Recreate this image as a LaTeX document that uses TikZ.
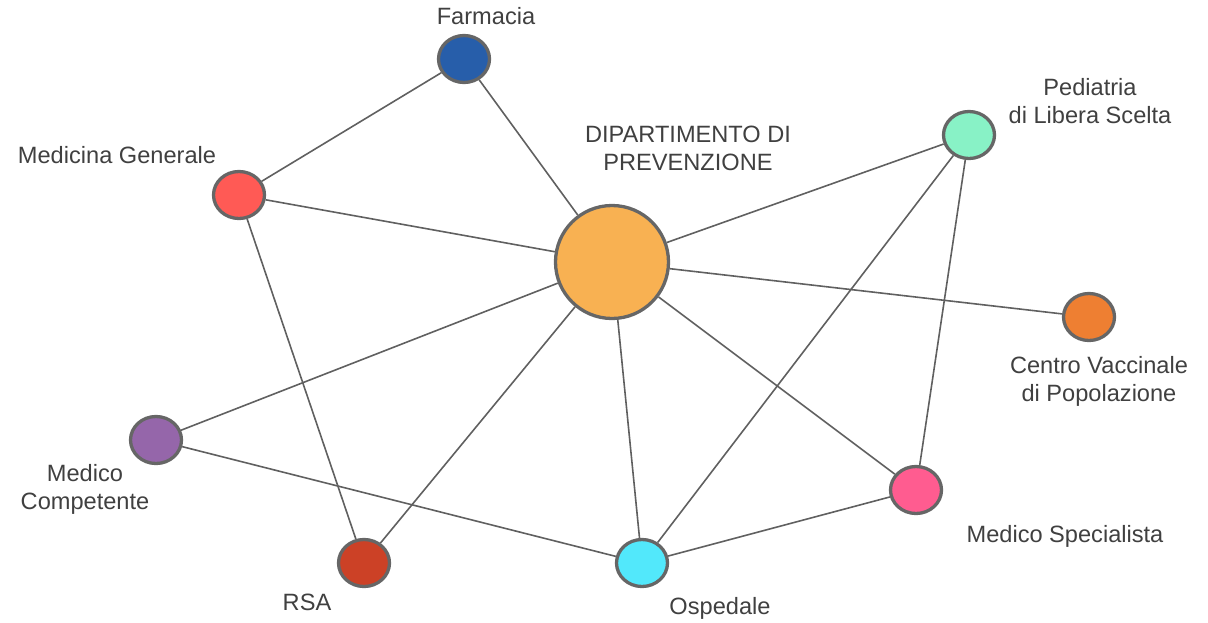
\documentclass[tikz,border=0pt]{standalone}
\usepackage{fontspec}
\setmainfont{Liberation Sans}
\usetikzlibrary{shapes.geometric}
\definecolor{edgec}{HTML}{606060}
\definecolor{borderc}{HTML}{666666}
\definecolor{txtc}{HTML}{404040}
\definecolor{cFarm}{HTML}{275EAA}
\definecolor{cMedGen}{HTML}{FF5A55}
\definecolor{cDip}{HTML}{F8B152}
\definecolor{cPed}{HTML}{88F2C6}
\definecolor{cCV}{HTML}{EE7F32}
\definecolor{cMC}{HTML}{9566AA}
\definecolor{cRSA}{HTML}{CC4126}
\definecolor{cOsp}{HTML}{52E8FB}
\definecolor{cMS}{HTML}{FF5C90}
\tikzset{
  dot/.style={ellipse, draw=borderc, line width=3.3pt, minimum width=51pt, minimum height=47pt, inner sep=0pt},
  bigdot/.style={circle, draw=borderc, line width=3.3pt, minimum size=113pt, inner sep=0pt},
  lbl/.style={text=txtc, align=center, font=\fontsize{23.6}{28}\selectfont, inner sep=0pt},
  link/.style={draw=edgec, line width=1.6pt}
}
\begin{document}
\begin{tikzpicture}[x=1pt,y=-1pt]
\useasboundingbox (0,0) rectangle (1208,622);
% nodes
\node[bigdot, fill=cDip] (dip) at (612,262) {};
\node[dot, fill=cFarm] (farm) at (464,59) {};
\node[dot, fill=cMedGen] (medgen) at (239,195) {};
\node[dot, fill=cPed] (ped) at (969,135) {};
\node[dot, fill=cCV] (cv) at (1089,317) {};
\node[dot, fill=cMC] (mc) at (156,440) {};
\node[dot, fill=cRSA] (rsa) at (364,563) {};
\node[dot, fill=cOsp] (osp) at (642,563) {};
\node[dot, fill=cMS] (ms) at (916,490) {};
% labels
\node[lbl] (lfarm) at (486,16) {Farmacia};
\node[lbl] (lmedgen) at (117,155) {Medicina Generale};
\node[lbl] (ldip) at (688,148) {DIPARTIMENTO DI\\PREVENZIONE};
\node[lbl] (lped) at (1090,101) {Pediatria\\di Libera Scelta};
\node[lbl] (lcv) at (1099,381) {Centro Vaccinale\\di Popolazione};
\node[lbl] (lmc) at (85,489) {Medico\\Competente};
\node[lbl] (lrsa) at (307,602) {RSA};
\node[lbl] (losp) at (720,608) {Ospedale};
\node[lbl] (lms) at (1065,536) {Medico Specialista};
% edges
\draw[link] (farm) -- (medgen);
\draw[link] (farm) -- (dip);
\draw[link] (medgen) -- (dip);
\draw[link] (medgen) -- (rsa);
\draw[link] (dip) -- (ped);
\draw[link] (dip) -- (cv);
\draw[link] (dip) -- (mc);
\draw[link] (dip) -- (rsa);
\draw[link] (dip) -- (osp);
\draw[link] (dip) -- (ms);
\draw[link] (ped) -- (osp);
\draw[link] (ped) -- (ms);
\draw[link] (mc) -- (osp);
\draw[link] (osp) -- (ms);
\end{tikzpicture}
\end{document}
